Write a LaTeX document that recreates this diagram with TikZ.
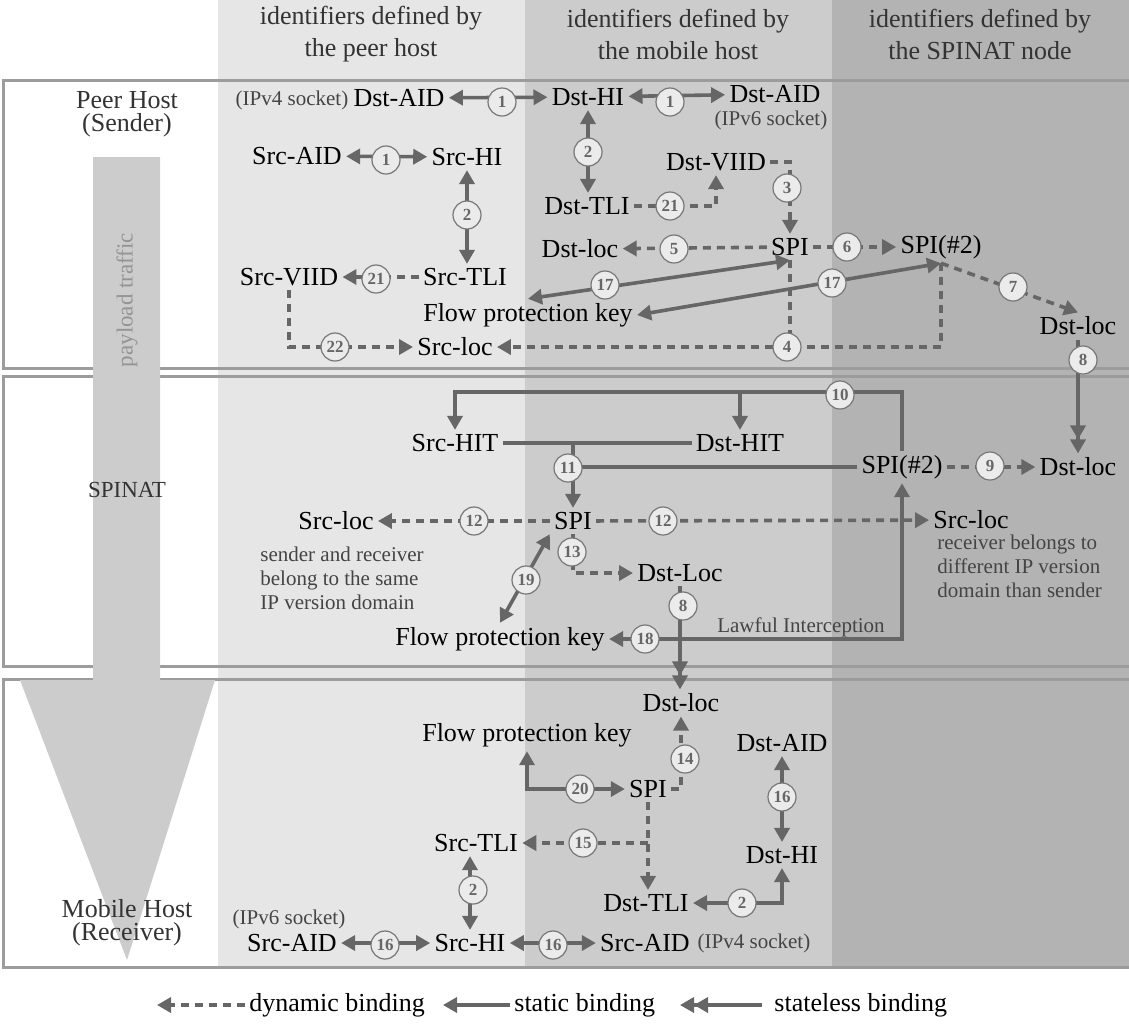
\documentclass[tikz,border=0pt]{standalone}
\usepackage{fontspec}
\setmainfont{Liberation Serif}
\usepackage{xcolor}
\usetikzlibrary{arrows.meta}

\definecolor{colA}{HTML}{E6E6E6}
\definecolor{colB}{HTML}{CCCCCC}
\definecolor{colC}{HTML}{B3B3B3}
\definecolor{framegray}{HTML}{9C9C9C}
\definecolor{linkgray}{HTML}{666666}
\definecolor{numfill}{HTML}{EBEBEB}
\definecolor{numdraw}{HTML}{777777}
\definecolor{numtext}{HTML}{666666}
\definecolor{headgray}{HTML}{333333}
\definecolor{notegray}{HTML}{444444}
\definecolor{arrowgray}{HTML}{CCCCCC}

\begin{document}
\begin{tikzpicture}[x=0.5pt,y=-0.5pt,>={Triangle[length=7pt,width=7.5pt]},
	idn/.style={font=\fontsize{13}{15}\selectfont,inner sep=2pt},
	note/.style={font=\fontsize{10.5}{12}\selectfont,text=notegray,inner sep=1pt},
	head/.style={font=\fontsize{13}{16}\selectfont,text=headgray,align=center},
	host/.style={font=\fontsize{13}{11.5}\selectfont,text=headgray,align=center},
	num/.style={circle,draw=numdraw,line width=0.6pt,fill=numfill,inner sep=0pt,minimum size=14pt,font=\fontsize{8.5}{9}\selectfont\bfseries,text=numtext},
	link/.style={draw=linkgray,line width=1.8pt},
	dyn/.style={link,dash pattern=on 4pt off 3pt},
	rowframe/.style={draw=framegray,line width=1.5pt}]
	\useasboundingbox (0,0) rectangle (1129,1025);
	
	% Columns
	\fill[colA] (218,0) rectangle (525,967);
	\fill[colB] (525,0) rectangle (832,967);
	\fill[colC] (832,0) rectangle (1129,967);
	\node[head] (hpeer) at (371,34) {identifiers defined by\\the peer host};
	\node[head] (hmob) at (678,34) {identifiers defined by\\the mobile host};
	\node[head] (hnat) at (980,34) {identifiers defined by\\the SPINAT node};
	
	% Rows
	\draw[rowframe] (1129,80) -| (3,368) -- (1129,368);
	\draw[rowframe] (1129,376) -| (3,666) -- (1129,666);
	\draw[rowframe] (1129,679) -| (3,967) -- (1129,967);
	
	% Traffic arrow
	\fill[arrowgray] (93,157) -- (160,157) -- (160,680) -- (215,680) -- (127,960) -- (20,680) -- (93,680) -- cycle;
	\node[host] (peer) at (127,114) {Peer Host\\(Sender)};
	\node[host] (mobile) at (127,923) {Mobile Host\\(Receiver)};
	\node[rotate=90,font=\fontsize{11.5}{12}\selectfont,text=black!42] (payload) at (127,300) {payload traffic};
	\node[font=\fontsize{11.5}{12}\selectfont,text=headgray] (spinat) at (127,490) {SPINAT};
	
	% Peer host
	\node[note] (ipv4a) at (292,100) {(IPv4 socket)};
	\node[idn] (DstAIDa) at (399,98) {Dst-AID};
	\node[idn] (DstHIa) at (588,97) {Dst-HI};
	\node[idn] (DstAIDb) at (775,94) {Dst-AID};
	\node[note,inner sep=0pt] (ipv6a) at (771,120) {(IPv6 socket)};
	\node[idn] (SrcAIDa) at (297,156) {Src-AID};
	\node[idn] (SrcHIa) at (467,157) {Src-HI};
	\node[idn] (SrcTLIa) at (465,277) {Src-TLI};
	\node[idn] (DstTLIa) at (587,206) {Dst-TLI};
	\node[idn] (DstVIID) at (716,162) {Dst-VIID};
	\node[idn] (SPIa) at (790,247) {SPI};
	\node[idn] (DstLoca) at (580,249) {Dst-loc};
	\node[idn] (SPI2a) at (941,247) {SPI(\#2)};
	\node[idn] (DstLocR) at (1078,326) {Dst-loc};
	\node[idn] (SrcVIID) at (289,277) {Src-VIID};
	\node[idn] (SrcLoca) at (455,347) {Src-loc};
	\node[idn] (FPKa) at (528,315) {Flow protection key};
	
	\draw[link,<->] (DstAIDa) -- (DstHIa);
	\draw[link,<->] (DstHIa) -- (DstAIDb);
	\draw[link,<->] (SrcAIDa) -- (SrcHIa);
	\draw[link,<->] (SrcHIa) -- (SrcHIa |- SrcTLIa.north);
	\draw[link,<->] (DstHIa) -- (DstHIa |- DstTLIa.north);
	\draw[dyn,->] (DstTLIa) -| (DstVIID);
	\draw[dyn,->] (DstVIID) -| (SPIa);
	\draw[dyn,->] (SPIa) -- (DstLoca);
	\draw[dyn,->] (SPIa) -- (SPI2a);
	\draw[dyn,->] (SPI2a.south) -- (DstLocR.north);
	\draw[link,<->] (FPKa.north) -- (SPIa.south);
	\draw[link,<->] (FPKa.east) -- (SPI2a.south);
	\draw[dyn] (SPIa.south) -- (SPIa.south |- SrcLoca);
	\draw[dyn,->] (SPI2a.south) |- (SrcLoca);
	\draw[dyn,->] (SrcTLIa) -- (SrcVIID);
	\draw[dyn,->] (SrcVIID) |- (SrcLoca);
	
	% SPINAT
	\node[idn] (SrcHIT) at (455,443) {Src-HIT};
	\node[idn] (DstHIT) at (740,443) {Dst-HIT};
	\node[idn] (SPI2b) at (902,467) {SPI(\#2)};
	\node[idn] (DstLocb) at (1078,467) {Dst-loc};
	\node[idn] (SPIb) at (573,521) {SPI};
	\node[idn] (SrcLocL) at (336,521) {Src-loc};
	\node[idn] (SrcLocR) at (971,520) {Src-loc};
	\node[idn] (DstLocc) at (680,573) {Dst-Loc};
	\node[idn] (FPKb) at (500,639) {Flow protection key};
	\node[note,anchor=north west,align=left,font=\fontsize{10.5}{12}\selectfont] (sameip) at (258,545) {sender and receiver\\belong to the same\\IP version domain};
	\node[note,anchor=north west,align=left,font=\fontsize{10.5}{12}\selectfont] (diffip) at (935,533) {receiver belongs to\\different IP version\\domain than sender};
	\node[note] (lawful) at (801,627) {Lawful Interception};
	\coordinate (top10) at (902,392);
	
	\draw[link,->>] (DstLocR) -- (DstLocb);
	\draw[link,->] (SPI2b.north) -- (top10) -| (SrcHIT.north);
	\draw[link,->] (DstHIT.north |- top10) -- (DstHIT.north);
	\draw[link] (SrcHIT) -- (DstHIT);
	\draw[link,->] (SPIb.north |- SrcHIT) -- (SPIb.north);
	\draw[link] (SPIb.north |- SPI2b) -- (SPI2b);
	\draw[dyn,->] (SPI2b) -- (DstLocb);
	\draw[dyn,->] (SPIb) -- (SrcLocL);
	\draw[dyn,->] (SPIb) -- (SrcLocR);
	\draw[dyn,->] (SPIb.south) |- (DstLocc);
	\draw[link,<->] (FPKb.north) -- (SPIb.south west);
	\draw[link,<->] (SPI2b.south) |- (FPKb);
	
	% Mobile host
	\node[idn] (DstLoc3) at (681,703) {Dst-loc};
	\node[idn] (FPK3) at (527,735) {Flow protection key};
	\node[idn] (SPI3) at (648,789) {SPI};
	\node[idn] (DstAID3) at (782,743) {Dst-AID};
	\node[idn] (DstHI3) at (782,855) {Dst-HI};
	\node[idn] (SrcTLI3) at (476,843) {Src-TLI};
	\node[idn] (DstTLI3) at (646,903) {Dst-TLI};
	\node[idn] (SrcAID3) at (292,943) {Src-AID};
	\node[note] (ipv6b) at (289,919) {(IPv6 socket)};
	\node[idn] (SrcHI3) at (470,943) {Src-HI};
	\node[idn] (SrcAID3b) at (645,943) {Src-AID};
	\node[note] (ipv4b) at (754,943) {(IPv4 socket)};
	
	\draw[link,->>] (DstLocc.south) -- (DstLocc.south |- DstLoc3.north);
	\draw[link,<->] (FPK3.south) |- (SPI3);
	\draw[dyn,->] (SPI3) -| (DstLoc3.south);
	\draw[link,<->] (DstAID3) -- (DstHI3);
	\draw[dyn,->] (SPI3.south) -- (SPI3.south |- DstTLI3.north);
	\draw[dyn,->] (SPI3.south |- SrcTLI3) -- (SrcTLI3);
	\draw[link,<->] (DstTLI3) -| (DstHI3);
	\draw[link,<->] (SrcHI3) -- (SrcHI3 |- SrcTLI3.south);
	\draw[link,<->] (SrcAID3) -- (SrcHI3);
	\draw[link,<->] (SrcHI3) -- (SrcAID3b);
	
	% Binding numbers
	\foreach \cx/\cy/\ct [count=\k] in {502/102/1, 670/102/1, 386/160/1, 467/215/2, 588/152/2,
		670/206/21, 787/188/3, 674/249/5, 847/247/6, 1013/287/7, 605/285/17, 832/283/17,
		376/279/21, 335/347/22, 787/347/4, 1083/360/8,
		840/395/10, 568/468/11, 990/466/9, 474/521/12, 663/521/12, 572/552/13, 526/580/19,
		645/639/18, 683/606/8,
		685/759/14, 580/789/20, 782/797/16, 583/843/15, 473/890/2, 742/903/2, 385/945/16, 553/945/16}
		\node[num] (c\k) at (\cx,\cy) {\ct};
	
	% Legend
	\node[idn,anchor=west] (lgdyn) at (245,1005) {dynamic binding};
	\node[idn,anchor=west] (lgstat) at (510,1005) {static binding};
	\node[idn,anchor=west] (lgstl) at (770,1005) {stateless binding};
	\coordinate (lgdynT) at (157,1005);
	\coordinate (lgstatT) at (443,1005);
	\coordinate (lgstlT) at (680,1005);
	\draw[dyn,->] (lgdyn.west) -- (lgdynT);
	\draw[link,->] (lgstat.west) -- (lgstatT);
	\draw[link,->>] ([xshift=-4pt]lgstl.west) -- (lgstlT);
\end{tikzpicture}
\end{document}
